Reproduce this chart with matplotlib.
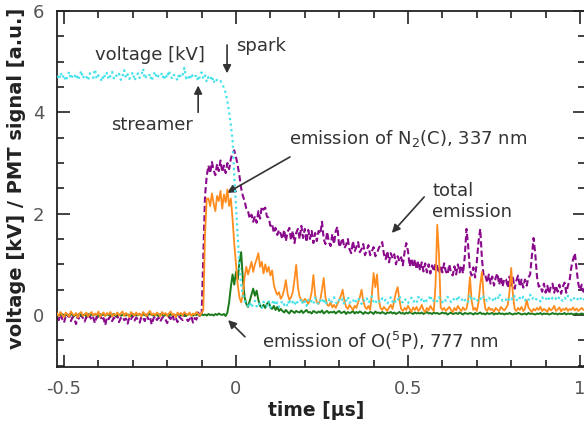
import numpy as np
import matplotlib
matplotlib.use('Agg')
import matplotlib.pyplot as plt

t0 = -0.52
dt = 0.005

voltage_kv = [
    4.72, 4.65, 4.78, 4.68, 4.74, 4.62, 4.70, 4.80, 4.66, 4.73,
    4.69, 4.76, 4.64, 4.71, 4.82, 4.67, 4.74, 4.70, 4.63, 4.77,
    4.72, 4.68, 4.85, 4.66, 4.73, 4.70, 4.61, 4.75, 4.69, 4.78,
    4.65, 4.72, 4.80, 4.67, 4.74, 4.70, 4.76, 4.64, 4.71, 4.83,
    4.68, 4.75, 4.66, 4.72, 4.79, 4.63, 4.70, 4.77, 4.68, 4.74,
    4.86, 4.66, 4.71, 4.69, 4.76, 4.62, 4.73, 4.80, 4.67, 4.72,
    4.70, 4.78, 4.64, 4.75, 4.68, 4.82, 4.71, 4.66, 4.74, 4.70,
    4.63, 4.77, 4.69, 4.73, 4.88, 4.67, 4.72, 4.64, 4.76, 4.70,
    4.68, 4.74, 4.62, 4.71, 4.79, 4.66, 4.73, 4.60, 4.70, 4.65,
    4.72, 4.58, 4.67, 4.63,
    4.60, 4.62, 4.56, 4.48, 4.38, 4.22,
    4.00, 3.75, 3.45, 2.75, 2.15, 1.55, 0.95, 0.60, 0.40, 0.28, 0.22,
    0.18, 0.25, 0.15, 0.22, 0.28, 0.17, 0.24, 0.20, 0.14, 0.26,
    0.21, 0.18, 0.27, 0.15, 0.23, 0.30, 0.19, 0.25, 0.16, 0.22,
    0.28, 0.20, 0.24, 0.17, 0.31, 0.22, 0.26, 0.19, 0.29, 0.23,
    0.25, 0.32, 0.21, 0.27, 0.18, 0.30, 0.24, 0.28, 0.22, 0.34,
    0.26, 0.21, 0.29, 0.24, 0.33, 0.20, 0.27, 0.31, 0.23, 0.28,
    0.35, 0.25, 0.22, 0.30, 0.26, 0.32, 0.21, 0.28, 0.36, 0.24,
    0.27, 0.31, 0.23, 0.29, 0.34, 0.25, 0.22, 0.30, 0.27, 0.33,
    0.24, 0.29, 0.37, 0.26, 0.22, 0.31, 0.28, 0.25, 0.33, 0.27,
    0.30, 0.23, 0.28, 0.35, 0.26, 0.31, 0.24, 0.29, 0.38, 0.27,
    0.25, 0.32, 0.28, 0.23, 0.30, 0.34, 0.26, 0.29, 0.24, 0.36,
    0.28, 0.31, 0.25, 0.33, 0.27, 0.30, 0.39, 0.26, 0.29, 0.32,
    0.27, 0.35, 0.30, 0.25, 0.32, 0.28, 0.36, 0.29, 0.26, 0.33,
    0.30, 0.27, 0.38, 0.31, 0.28, 0.34, 0.29, 0.32, 0.26, 0.40,
    0.31, 0.28, 0.35, 0.30, 0.27, 0.33, 0.29, 0.37, 0.32, 0.28,
    0.34, 0.30, 0.27, 0.36, 0.31, 0.29, 0.42, 0.33, 0.28, 0.32,
    0.30, 0.35, 0.28, 0.33, 0.29, 0.38, 0.31, 0.27, 0.34, 0.30,
    0.36, 0.29, 0.32, 0.28, 0.40, 0.31, 0.34, 0.29, 0.33, 0.30,
    0.27, 0.35, 0.31, 0.29, 0.37, 0.32, 0.28, 0.34, 0.30, 0.33,
    0.29, 0.36, 0.31, 0.28, 0.34, 0.30, 0.38, 0.32, 0.29, 0.35,
    0.31, 0.28, 0.34, 0.30, 0.36, 0.32, 0.29,
]

total_emission = [
    -0.05, -0.10, 0.02, -0.08, -0.15, -0.03, -0.06, 0.01, -0.12, -0.04,
    -0.07, -0.18, -0.02, -0.09, 0.00, -0.06, -0.13, -0.04, -0.08, -0.01,
    -0.10, -0.05, -0.16, -0.03, -0.07, 0.01, -0.11, -0.06, -0.20, -0.04,
    -0.08, -0.02, -0.12, -0.05, -0.09, 0.00, -0.14, -0.06, -0.03, -0.10,
    -0.07, -0.17, -0.04, -0.08, -0.01, -0.11, -0.05, -0.09, -0.15, -0.03,
    -0.06, -0.12, 0.01, -0.08, -0.04, -0.19, -0.07, -0.02, -0.10, -0.05,
    -0.13, -0.06, -0.03, -0.09, -0.16, -0.04, -0.08, 0.02, -0.11, -0.06,
    -0.14, -0.03, -0.07, -0.10, 0.03, -0.05, -0.12, -0.08, -0.02, -0.15,
    -0.06, -0.09, 0.05, -0.04, -0.02,
    1.20, 2.35, 2.75,
    2.95, 2.80, 3.02, 2.86, 2.76, 2.98, 2.84, 3.05, 2.82, 2.95, 2.80, 3.00, 2.88, 3.08,
    3.20, 3.25, 3.12,
    2.95, 2.75, 2.50, 2.35, 2.25, 2.10,
    2.05, 1.90, 1.98, 1.84, 1.95, 1.82, 2.05, 1.90, 2.14, 2.08,
    2.12, 1.94, 1.92, 1.76, 1.80, 1.62, 1.72, 1.58, 1.68, 1.60,
    1.50, 1.68, 1.46, 1.64, 1.72, 1.48, 1.66, 1.42, 1.62, 1.70,
    1.50, 1.76, 1.52, 1.70, 1.44, 1.68, 1.50, 1.66, 1.42, 1.62,
    1.46, 1.66, 1.60, 1.84, 1.50, 1.40, 1.64, 1.44, 1.36, 1.60,
    1.40, 1.66, 1.74, 1.34, 1.42, 1.52, 1.32, 1.38, 1.50, 1.30,
    1.22, 1.46, 1.26, 1.34, 1.44, 1.24, 1.30, 1.40, 1.18, 1.28,
    1.38, 1.18, 1.26, 1.34, 1.16, 1.22, 1.32, 1.38, 1.44, 1.20,
    1.10, 1.26, 1.04, 1.22, 1.12, 1.20, 1.00, 1.16, 1.06, 1.14,
    0.98, 1.24, 1.42, 1.26, 0.96, 1.12, 0.94, 1.10, 0.90, 1.06,
    0.88, 1.04, 0.86, 1.02, 0.84, 1.00, 0.82, 0.98, 0.86, 1.02,
    0.96, 0.82, 0.98, 0.84, 1.02, 0.86, 0.80, 1.00, 0.84, 0.78,
    0.96, 0.80, 1.00, 0.84, 0.98, 0.82, 1.15, 1.70, 1.35, 0.88,
    0.78, 0.94, 0.74, 1.05, 1.45, 1.70, 1.10, 0.76, 0.78, 0.64,
    0.80, 0.62, 0.76, 0.58, 0.74, 0.82, 0.60, 0.76, 0.56, 0.72,
    0.70, 0.54, 0.76, 0.58, 0.74, 0.52, 0.68, 0.78, 0.56, 0.70,
    0.54, 0.70, 0.58, 0.74, 0.80, 1.15, 1.52, 1.20, 0.75, 0.56,
    0.58, 0.46, 0.62, 0.44, 0.58, 0.42, 0.56, 0.62, 0.44, 0.58,
    0.46, 0.60, 0.42, 0.56, 0.64, 0.44, 0.58, 0.70, 0.95, 1.10,
    1.22, 0.90, 0.62, 0.48, 0.60, 0.46, 0.56,
]

n2_337nm = [
    0.03, -0.02, 0.06, 0.00, -0.04, 0.05, 0.01, -0.03, 0.07, 0.02,
    -0.01, 0.04, -0.05, 0.03, 0.06, -0.02, 0.01, 0.05, -0.03, 0.02,
    0.06, -0.01, 0.03, 0.00, 0.07, -0.04, 0.02, 0.05, -0.02, 0.04,
    0.01, 0.06, -0.03, 0.02, 0.00, 0.05, -0.01, 0.03, 0.07, -0.02,
    0.04, 0.01, -0.04, 0.06, 0.02, -0.01, 0.05, 0.00, 0.03, -0.03,
    0.06, 0.02, -0.02, 0.04, 0.08, 0.00, 0.03, -0.01, 0.05, 0.02,
    -0.03, 0.06, 0.01, 0.04, -0.02, 0.03, 0.07, 0.00, 0.02, -0.04,
    0.05, 0.01, 0.04, -0.01, 0.06, 0.02, 0.00, 0.05, -0.02, 0.03,
    0.01, 0.06, 0.02, -0.01, 0.04,
    0.10, 1.60, 2.30,
    2.30, 2.15, 2.40, 2.20, 2.05, 2.35, 2.25, 2.45, 2.10, 2.38, 2.22, 2.48, 2.15, 2.30,
    1.90, 1.40, 1.00, 0.60, 0.35, 0.25,
    0.40, 0.75, 0.95, 0.80, 0.92, 1.05, 0.85, 1.00, 1.10, 1.22,
    0.95, 1.05, 0.82, 1.00, 0.85, 0.95, 0.78, 0.88, 0.60, 0.48,
    0.40, 0.45, 0.32, 0.38, 0.50, 0.69, 0.42, 0.30, 0.35, 0.45,
    0.70, 0.99, 0.55, 0.36, 0.30, 0.25, 0.32, 0.28, 0.22, 0.30,
    0.45, 0.79, 0.40, 0.25, 0.22, 0.30, 0.50, 0.73, 0.35, 0.20,
    0.18, 0.25, 0.15, 0.20, 0.14, 0.22, 0.30, 0.38, 0.50, 0.28,
    0.16, 0.12, 0.20, 0.15, 0.10, 0.18, 0.14, 0.25, 0.35, 0.50,
    0.28, 0.16, 0.12, 0.18, 0.10, 0.40, 0.83, 0.55, 0.80, 0.30,
    0.14, 0.10, 0.16, 0.12, 0.08, 0.15, 0.20, 0.12, 0.28, 0.45,
    0.55, 0.30, 0.12, 0.08, 0.14, 0.10, 0.18, 0.12, 0.06, 0.15,
    0.10, 0.16, 0.08, 0.12, 0.20, 0.10, 0.06, 0.14, 0.09, 0.18,
    0.12, 0.08, 0.60, 1.78, 1.20, 0.15, 0.10, 0.14, 0.08, 0.12,
    0.16, 0.10, 0.06, 0.14, 0.09, 0.18, 0.12, 0.08, 0.15, 0.10,
    0.12, 0.30, 0.75, 0.28, 0.10, 0.14, 0.08, 0.25, 0.60, 0.85,
    0.35, 0.12, 0.08, 0.15, 0.10, 0.12, 0.06, 0.14, 0.10, 0.08,
    0.16, 0.12, 0.09, 0.14, 0.20, 0.45, 0.93, 0.40, 0.12, 0.08,
    0.14, 0.10, 0.16, 0.08, 0.12, 0.30, 0.15, 0.10, 0.06, 0.12,
    0.09, 0.14, 0.10, 0.16, 0.08, 0.12, 0.10, 0.06, 0.14, 0.09,
    0.12, 0.18, 0.08, 0.11, 0.15, 0.07, 0.12, 0.10, 0.14, 0.08,
    0.12, 0.10, 0.15, 0.09, 0.13, 0.08, 0.11, 0.14, 0.10, 0.12,
]

o_777nm = [
    0.01, -0.01, 0.00, 0.02, -0.02, 0.01, 0.00, -0.01, 0.02, 0.00,
    -0.02, 0.01, 0.00, 0.02, -0.01, 0.00, 0.01, -0.02, 0.02, 0.00,
    0.01, -0.01, 0.02, 0.00, -0.02, 0.01, 0.00, 0.01, -0.01, 0.02,
    0.00, -0.01, 0.01, 0.02, -0.02, 0.00, 0.01, -0.01, 0.00, 0.02,
    -0.01, 0.01, 0.00, -0.02, 0.02, 0.01, -0.01, 0.00, 0.02, -0.01,
    0.01, 0.00, -0.02, 0.01, 0.02, 0.00, -0.01, 0.01, 0.00, -0.02,
    0.02, 0.01, -0.01, 0.00, 0.01, -0.02, 0.02, 0.00, 0.01, -0.01,
    0.00, 0.02, -0.01, 0.01, 0.00, -0.02, 0.01, 0.02, 0.00, -0.01,
    0.01, 0.00, 0.02, -0.01, 0.01,
    0.00, 0.01, -0.01, 0.02, 0.00, 0.01, -0.01, 0.02, 0.00, 0.03,
    0.01, 0.00, 0.02, -0.02, 0.05,
    0.25, 0.55, 0.80, 0.60, 0.85, 0.70, 1.05, 1.24, 0.70, 0.35,
    0.22, 0.16, 0.28, 0.40, 0.52, 0.38, 0.48, 0.30, 0.18, 0.15,
    0.20, 0.14, 0.22, 0.26, 0.15, 0.12, 0.18, 0.10, 0.16, 0.08,
    0.12,
    0.08, 0.05, 0.10, 0.06, 0.03, 0.09, 0.07, 0.04, 0.08, 0.06,
    0.05, 0.09, 0.04, 0.07, 0.10, 0.05, 0.06, 0.03, 0.08, 0.06,
    0.04, 0.07, 0.05, 0.09, 0.03, 0.06, 0.08, 0.04, 0.06, 0.05,
    0.07, 0.03, 0.06, 0.08, 0.04, 0.05, 0.07, 0.02, 0.06, 0.04,
    0.05, 0.08, 0.03, 0.06, 0.04, 0.07, 0.05, 0.02, 0.06, 0.04,
    0.03, 0.06, 0.05, 0.02, 0.07, 0.04, 0.05, 0.03, 0.06, 0.04,
    0.02, 0.05, 0.04, 0.06, 0.03, 0.05, 0.02, 0.04, 0.06, 0.03,
    0.04, 0.02, 0.05, 0.03, 0.06, 0.04, 0.02, 0.05, 0.03, 0.04,
    0.03, 0.05, 0.02, 0.04, 0.06, 0.03, 0.04, 0.02, 0.05, 0.03,
    0.04, 0.02, 0.03, 0.05, 0.03, 0.04, 0.01, 0.03, 0.05, 0.02,
    0.03, 0.04, 0.02, 0.05, 0.03, 0.01, 0.04, 0.03, 0.02, 0.04,
    0.03, 0.01, 0.04, 0.02, 0.03, 0.05, 0.02, 0.03, 0.01, 0.04,
    0.02, 0.03, 0.04, 0.01, 0.03, 0.02, 0.04, 0.02, 0.03, 0.01,
    0.03, 0.02, 0.04, 0.02, 0.01, 0.03, 0.02, 0.04, 0.03, 0.01,
    0.02, 0.03, 0.01, 0.04, 0.02, 0.03, 0.02, 0.01, 0.03, 0.02,
    0.04, 0.01, 0.03, 0.02, 0.03, 0.01, 0.02, 0.04, 0.02, 0.03,
    0.01, 0.03, 0.02, 0.02, 0.04, 0.01, 0.03, 0.02, 0.03, 0.01,
    0.02, 0.03, 0.01, 0.02, 0.03, 0.02, 0.01,
]


def time_axis(values):
    n = len(values)
    return t0 + dt * np.arange(n)


TEXT = '#333333'
C_VOLT = '#44e2ea'
C_TOTAL = '#8a0a8c'
C_N2 = '#ff8c1e'
C_O = '#1b7a1b'

fig = plt.figure(figsize=(5.84, 4.24), dpi=100)
ax = fig.add_axes([57 / 584, 1 - 367 / 424, 528 / 584, 356 / 424])

ax.plot(time_axis(total_emission), total_emission, color=C_TOTAL, lw=1.5,
        linestyle=(0, (3, 1.5)), zorder=2)
ax.plot(time_axis(o_777nm), o_777nm, color=C_O, lw=1.4, zorder=3)
ax.plot(time_axis(n2_337nm), n2_337nm, color=C_N2, lw=1.3, zorder=4)
ax.plot(time_axis(voltage_kv), voltage_kv, color=C_VOLT, lw=1.6,
        linestyle=(0, (1, 1.5)), zorder=5)

ax.set_xlim(-0.5203, 1.0145)
ax.set_ylim(-1.026, 6.0)
ax.set_xticks([-0.5, 0, 0.5, 1])
ax.set_xticklabels(['-0.5', '0', '0.5', '1'])
ax.set_xticks(np.arange(-0.5, 1.01, 0.1), minor=True)
ax.set_yticks([0, 2, 4, 6])
ax.set_yticks(np.arange(-1, 6.01, 0.5), minor=True)

ax.tick_params(which='both', direction='in', top=True, right=True,
               color='#222222', width=1.2)
ax.tick_params(which='major', length=9, labelsize=13, labelcolor='#555555', pad=9)
ax.tick_params(which='minor', length=5)
for s in ax.spines.values():
    s.set_linewidth(1.3)
    s.set_color('#222222')

fig.text(316 / 584, 1 - 410 / 424, 'time [µs]', ha='center', va='center',
         fontsize=13.5, fontweight='bold', color='#222222')
fig.text(17 / 584, 1 - 178 / 424, 'voltage [kV] / PMT signal [a.u.]', ha='center',
         va='center', rotation=90, fontsize=14, fontweight='bold', color='#222222')

arrow = dict(arrowstyle='-|>', color=TEXT, lw=1.2, mutation_scale=12,
             shrinkA=0, shrinkB=0)
fs = 13
ax.text(-0.25, 5.13, 'voltage [kV]', ha='center', va='center', fontsize=fs, color=TEXT)
ax.text(0.073, 5.31, 'spark', ha='center', va='center', fontsize=fs, color=TEXT)
ax.annotate('', xy=(-0.026, 4.77), xytext=(-0.026, 5.33), arrowprops=arrow)
ax.text(-0.244, 3.75, 'streamer', ha='center', va='center', fontsize=fs, color=TEXT)
ax.annotate('', xy=(-0.11, 4.53), xytext=(-0.11, 4.0), arrowprops=arrow)
ax.text(0.5, 3.49, 'emission of N$_2$(C), 337 nm', ha='center', va='center',
        fontsize=fs, color=TEXT)
ax.annotate('', xy=(-0.026, 2.41), xytext=(0.157, 3.12), arrowprops=arrow)
ax.text(0.57, 2.24, 'total\nemission', ha='left', va='center', fontsize=fs,
        color=TEXT, linespacing=1.15)
ax.annotate('', xy=(0.453, 1.62), xytext=(0.547, 2.33), arrowprops=arrow)
ax.text(0.42, -0.51, 'emission of O($^5$P), 777 nm', ha='center', va='center',
        fontsize=fs, color=TEXT)
ax.annotate('', xy=(-0.023, -0.1), xytext=(0.026, -0.43), arrowprops=arrow)

fig.savefig('out.png', dpi=100)
